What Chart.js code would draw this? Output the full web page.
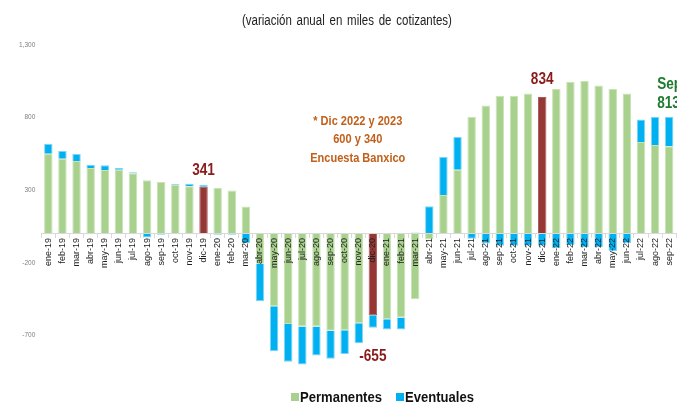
<!DOCTYPE html>
<html><head><meta charset="utf-8">
<script src="https://cdn.jsdelivr.net/npm/chart.js@4"></script>
<style>
html,body{margin:0;padding:0;overflow:hidden;background:#fff;width:677px;height:405px}
#wrap{position:absolute;left:0;top:0;width:680px;height:405px}
#title{position:absolute;top:12px;left:242px;font:14px 'Liberation Sans',Arial,sans-serif;word-spacing:2px;color:#222;white-space:nowrap;transform:scaleX(0.82);transform-origin:left top}
.leg{position:absolute;top:388px;font:bold 15px 'Liberation Sans',Arial,sans-serif;color:#111;white-space:nowrap;height:18px;line-height:18px}
.leg .box{position:absolute;left:0;top:5px;width:8px;height:8px}
.leg .txt{position:absolute;left:9px;top:0;display:inline-block;transform:scaleX(0.87);transform-origin:left top}
</style>
</head><body>
<div id="wrap"><canvas id="c"></canvas></div>
<div id="title">(variación anual en miles de cotizantes)</div>
<div class="leg" id="leg0" style="left:291px"></div>
<div class="leg" id="leg1" style="left:396px"></div>
<script>
const categories = ['ene-19','feb-19','mar-19','abr-19','may-19','jun-19','jul-19','ago-19','sep-19','oct-19','nov-19','dic-19',
  'ene-20','feb-20','mar-20','abr-20','may-20','jun-20','jul-20','ago-20','sep-20','oct-20','nov-20','dic-20',
  'ene-21','feb-21','mar-21','abr-21','may-21','jun-21','jul-21','ago-21','sep-21','oct-21','nov-21','dic-21',
  'ene-22','feb-22','mar-22','abr-22','may-22','jun-22','jul-22','ago-22','sep-22'];
const permanentes = [552,518,502,454,440,442,417,369,357,339,328,325,
  316,298,188,-206,-498,-619,-637,-637,-667,-662,-614,-559,
  -587,-575,-449,-39,268,442,806,884,951,951,967,942,
  997,1045,1052,1022,997,967,632,612,603];
const eventuales = [69,52,48,22,32,12,8,-25,-5,7,18,14,
  -5,-5,-64,-257,-309,-261,-261,-199,-191,-165,-139,-87,
  -71,-82,10,191,261,225,-34,-66,-82,-82,-82,-82,
  -98,-76,-92,-92,-117,-64,156,194,203];
const seriesNames = ['Permanentes','Eventuales'];
const yTickValues = [-700,-200,300,800,1300];
const calloutCats = ['dic-19','dic-21','dic-20'];
const calloutValues = [341,834,-655];
const sepCat = 'sep-22';
const sepLines = ['Sep','813'];
const sepValue = 813;
const noteCat = 'nov-20';
const noteValue = 800;
const noteLines = ['* Dic 2022 y 2023','600 y 340','Encuesta Banxico'];

const GREEN='#A9D18E', BLUE='#00B0F0', RED='#953735';
const SANS="'Liberation Sans',Arial,sans-serif";

[GREEN,BLUE].forEach((col,i)=>{
  document.getElementById('leg'+i).innerHTML =
    '<span class="box" style="background:'+col+'"></span><span class="txt">'+seriesNames[i]+'</span>';
});

function squeezeText(ctx, text, x, y, sx){
  ctx.save(); ctx.translate(x,y); ctx.scale(sx,1); ctx.fillText(text,0,0); ctx.restore();
}

const calloutPlugin = {
  id:'callouts',
  afterDraw(chart){
    const {ctx, scales:{x,y}} = chart;
    ctx.save();
    ctx.textAlign='center'; ctx.textBaseline='middle';
    ctx.font = 'bold 16px '+SANS;
    ctx.fillStyle = '#8B1A1A';
    const offs = [-14,-33,27];
    calloutCats.forEach((c,i)=>{
      const v = calloutValues[i];
      squeezeText(ctx, String(v), x.getPixelForValue(categories.indexOf(c)), y.getPixelForValue(v)+offs[i], 0.85);
    });
    ctx.fillStyle = '#1E7B30';
    ctx.textAlign='left';
    const sx = x.getPixelForValue(categories.indexOf(sepCat)) - 12;
    const sy = y.getPixelForValue(sepValue);
    squeezeText(ctx, sepLines[0], sx, sy-31, 0.85);
    squeezeText(ctx, sepLines[1], sx, sy-12, 0.85);
    ctx.textAlign='center';
    ctx.fillStyle = '#C0601A';
    ctx.font = 'bold 13px '+SANS;
    const nx = x.getPixelForValue(categories.indexOf(noteCat)) - 1;
    const ny = y.getPixelForValue(noteValue);
    noteLines.forEach((t,i)=>squeezeText(ctx, t, nx, ny+3.5+i*18.5, 0.85));
    ctx.restore();
  }
};

new Chart(document.getElementById('c'), {
  type:'bar',
  data:{
    labels:categories,
    datasets:[
      {label:seriesNames[0], data:permanentes,
       backgroundColor:categories.map(c=>c.startsWith('dic')?RED:GREEN),
       borderColor:categories.map(c=>c.startsWith('dic')?'#a85a58':'#c9e3b7'),
       borderWidth:1, barPercentage:0.6, categoryPercentage:1},
      {label:seriesNames[1], data:eventuales,
       backgroundColor:BLUE, borderColor:'#7fd5f5', borderWidth:1,
       barPercentage:0.6, categoryPercentage:1}
    ]
  },
  options:{
    responsive:true, maintainAspectRatio:false, animation:false,
    layout:{padding:{top:45,bottom:33,left:13,right:1}},
    plugins:{legend:{display:false}, title:{display:false}, tooltip:{enabled:false}},
    scales:{
      x:{stacked:true, position:{y:0},
         grid:{drawOnChartArea:false, color:'#d9d9d9', tickLength:4, offset:true, z:1},
         border:{color:'#d9d9d9', z:1},
         ticks:{minRotation:90, maxRotation:90, autoSkip:false, padding:0, z:1,
                font:{family:SANS, size:9}, color:'#222'}},
      y:{stacked:true, min:-950, max:1300,
         grid:{display:false, drawTicks:false}, border:{display:false},
         afterBuildTicks: axis => { axis.ticks = yTickValues.map(v=>({value:v})); },
         ticks:{callback:v=>v.toLocaleString('en-US'), padding:6,
                font:{family:SANS, size:6.5}, color:'#7f7f7f'}}
    }
  },
  plugins:[calloutPlugin]
});
</script>
</body></html>
